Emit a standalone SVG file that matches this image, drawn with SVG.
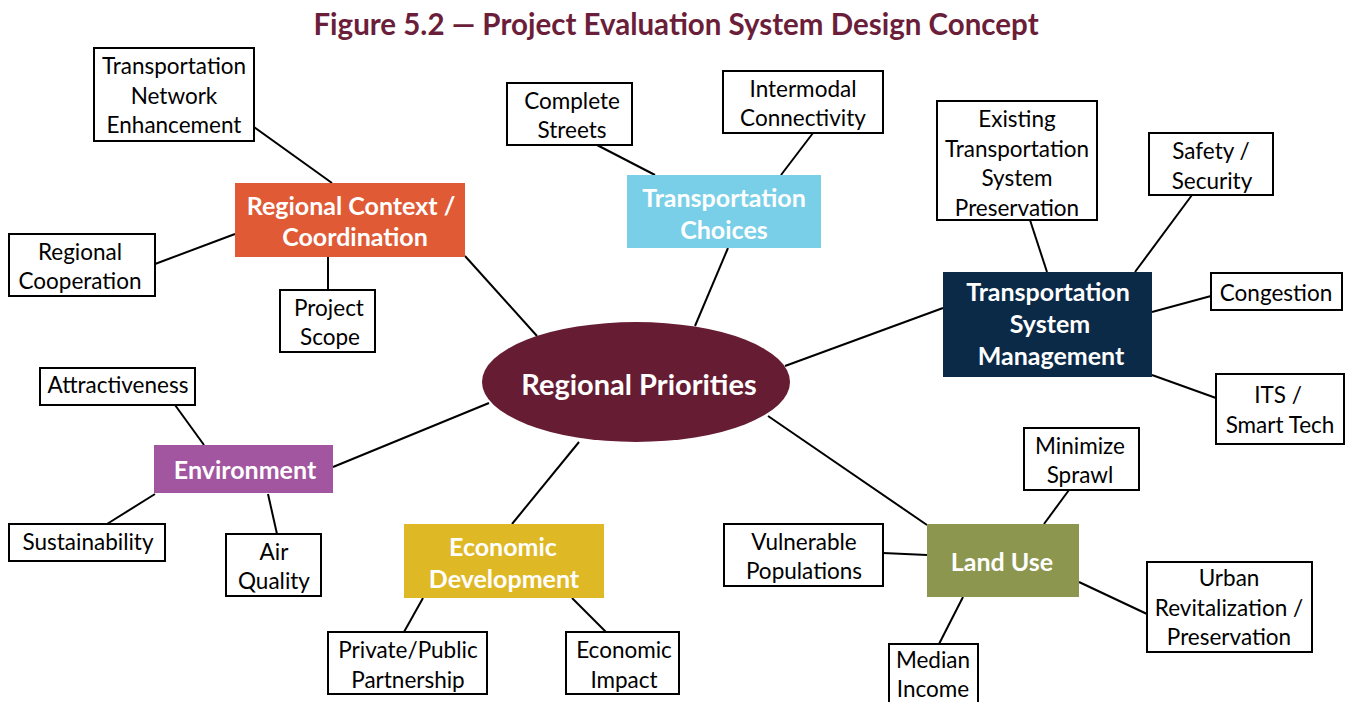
<svg xmlns="http://www.w3.org/2000/svg" width="1348" height="702" viewBox="0 0 1348 702">
<style>
.t{font-family:Lato,"Open Sans","Liberation Sans",sans-serif;font-size:22.5px;fill:#000;text-anchor:middle;dominant-baseline:central}
.h{font-family:Lato,"Open Sans","Liberation Sans",sans-serif;font-size:25px;font-weight:bold;fill:#fff;text-anchor:middle;dominant-baseline:central}
.b{fill:#fff;stroke:#000;stroke-width:2}
.c line{stroke:#000;stroke-width:2}
</style>
<rect width="1348" height="702" fill="#fff"/>
<text x="676" y="23" style="font-family:Lato,'Open Sans','Liberation Sans',sans-serif;font-size:29.5px;font-weight:bold;fill:#6B1E3A;text-anchor:middle;dominant-baseline:central">Figure 5.2 — Project Evaluation System Design Concept</text>
<g class="c" id="connectors">
<line x1="254" y1="127" x2="332" y2="183"/>
<line x1="155" y1="264" x2="235" y2="234"/>
<line x1="328" y1="290" x2="328" y2="257"/>
<line x1="465" y1="256" x2="537" y2="336"/>
<line x1="597" y1="145" x2="655" y2="175"/>
<line x1="813" y1="133" x2="781" y2="175"/>
<line x1="728" y1="248" x2="695" y2="326"/>
<line x1="1030" y1="220" x2="1047" y2="272"/>
<line x1="1192" y1="195" x2="1135" y2="272"/>
<line x1="1211" y1="296" x2="1152" y2="312"/>
<line x1="1216" y1="398" x2="1152" y2="375"/>
<line x1="785" y1="366" x2="943" y2="308"/>
<line x1="175" y1="405" x2="204" y2="445"/>
<line x1="107" y1="524" x2="155" y2="494"/>
<line x1="277" y1="534" x2="268" y2="494"/>
<line x1="333" y1="467" x2="489" y2="403"/>
<line x1="579" y1="442" x2="512" y2="524"/>
<line x1="423" y1="598" x2="404" y2="632"/>
<line x1="572" y1="598" x2="606" y2="632"/>
<line x1="768" y1="416" x2="927" y2="525"/>
<line x1="883" y1="553" x2="927" y2="555"/>
<line x1="1069" y1="490" x2="1044" y2="524"/>
<line x1="1079" y1="582" x2="1147" y2="614"/>
<line x1="963" y1="597" x2="939" y2="644"/>
</g>
<g id="center"><ellipse cx="636" cy="382" rx="154" ry="60" fill="#661C33"/><text class="h" x="639" y="383" style="font-size:29px">Regional Priorities</text></g>
<g id="regional-context"><rect x="235" y="183" width="230" height="74" fill="#E05A35"/><text class="h" x="351" y="205">Regional Context /</text><text class="h" x="355" y="236">Coordination</text></g>
<g id="tne"><rect class="b" x="94" y="48" width="160" height="93"/><text class="t" x="174" y="65">Transportation</text><text class="t" x="174" y="95">Network</text><text class="t" x="174" y="124">Enhancement</text></g>
<g id="regional-cooperation"><rect class="b" x="9" y="234" width="146" height="62"/><text class="t" x="80" y="251">Regional</text><text class="t" x="80" y="280">Cooperation</text></g>
<g id="project-scope"><rect class="b" x="280" y="290" width="95" height="62"/><text class="t" x="329" y="307">Project</text><text class="t" x="330" y="336">Scope</text></g>
<g id="transportation-choices"><rect x="627" y="175" width="194" height="73" fill="#7ACFE8"/><text class="h" x="724" y="197">Transportation</text><text class="h" x="724" y="229">Choices</text></g>
<g id="complete-streets"><rect class="b" x="507" y="83" width="125" height="62"/><text class="t" x="572" y="100">Complete</text><text class="t" x="572" y="129">Streets</text></g>
<g id="intermodal"><rect class="b" x="723" y="71" width="160" height="62"/><text class="t" x="803" y="88">Intermodal</text><text class="t" x="803" y="117">Connectivity</text></g>
<g id="tsm"><rect x="943" y="272" width="209" height="105" fill="#0B2A48"/><text class="h" x="1048" y="291">Transportation</text><text class="h" x="1050" y="323">System</text><text class="h" x="1051" y="355">Management</text></g>
<g id="etsp"><rect class="b" x="937" y="101" width="160" height="119"/><text class="t" x="1017" y="118">Existing</text><text class="t" x="1017" y="148">Transportation</text><text class="t" x="1017" y="177">System</text><text class="t" x="1017" y="207">Preservation</text></g>
<g id="safety"><rect class="b" x="1149" y="133" width="124" height="62"/><text class="t" x="1211" y="150">Safety /</text><text class="t" x="1212" y="180">Security</text></g>
<g id="congestion"><rect class="b" x="1211" y="273" width="131" height="37"/><text class="t" x="1276" y="292">Congestion</text></g>
<g id="its"><rect class="b" x="1216" y="374" width="128" height="70"/><text class="t" x="1278" y="394">ITS /</text><text class="t" x="1280" y="424">Smart Tech</text></g>
<g id="environment"><rect x="154" y="445" width="179" height="48" fill="#A2569F"/><text class="h" x="245" y="469">Environment</text></g>
<g id="attractiveness"><rect class="b" x="40" y="368" width="155" height="37"/><text class="t" x="118" y="384">Attractiveness</text></g>
<g id="sustainability"><rect class="b" x="9" y="524" width="156" height="37"/><text class="t" x="88" y="541">Sustainability</text></g>
<g id="air-quality"><rect class="b" x="226" y="534" width="95" height="62"/><text class="t" x="274" y="551">Air</text><text class="t" x="274" y="580">Quality</text></g>
<g id="economic-development"><rect x="404" y="524" width="200" height="74" fill="#DFB825"/><text class="h" x="503" y="546">Economic</text><text class="h" x="504" y="578">Development</text></g>
<g id="ppp"><rect class="b" x="328" y="632" width="159" height="62"/><text class="t" x="408" y="649">Private/Public</text><text class="t" x="408" y="679">Partnership</text></g>
<g id="economic-impact"><rect class="b" x="566" y="632" width="113" height="62"/><text class="t" x="624" y="649">Economic</text><text class="t" x="624" y="679">Impact</text></g>
<g id="land-use"><rect x="927" y="524" width="152" height="73" fill="#8C964E"/><text class="h" x="1002" y="561">Land Use</text></g>
<g id="vulnerable"><rect class="b" x="724" y="524" width="159" height="62"/><text class="t" x="804" y="541">Vulnerable</text><text class="t" x="804" y="570">Populations</text></g>
<g id="minimize-sprawl"><rect class="b" x="1024" y="428" width="115" height="62"/><text class="t" x="1080" y="445">Minimize</text><text class="t" x="1080" y="474">Sprawl</text></g>
<g id="urban"><rect class="b" x="1147" y="562" width="165" height="90"/><text class="t" x="1229" y="577">Urban</text><text class="t" x="1229" y="607">Revitalization /</text><text class="t" x="1229" y="636">Preservation</text></g>
<g id="median-income"><rect class="b" x="889" y="644" width="89" height="64"/><text class="t" x="933" y="659">Median</text><text class="t" x="933" y="688">Income</text></g>
</svg>
